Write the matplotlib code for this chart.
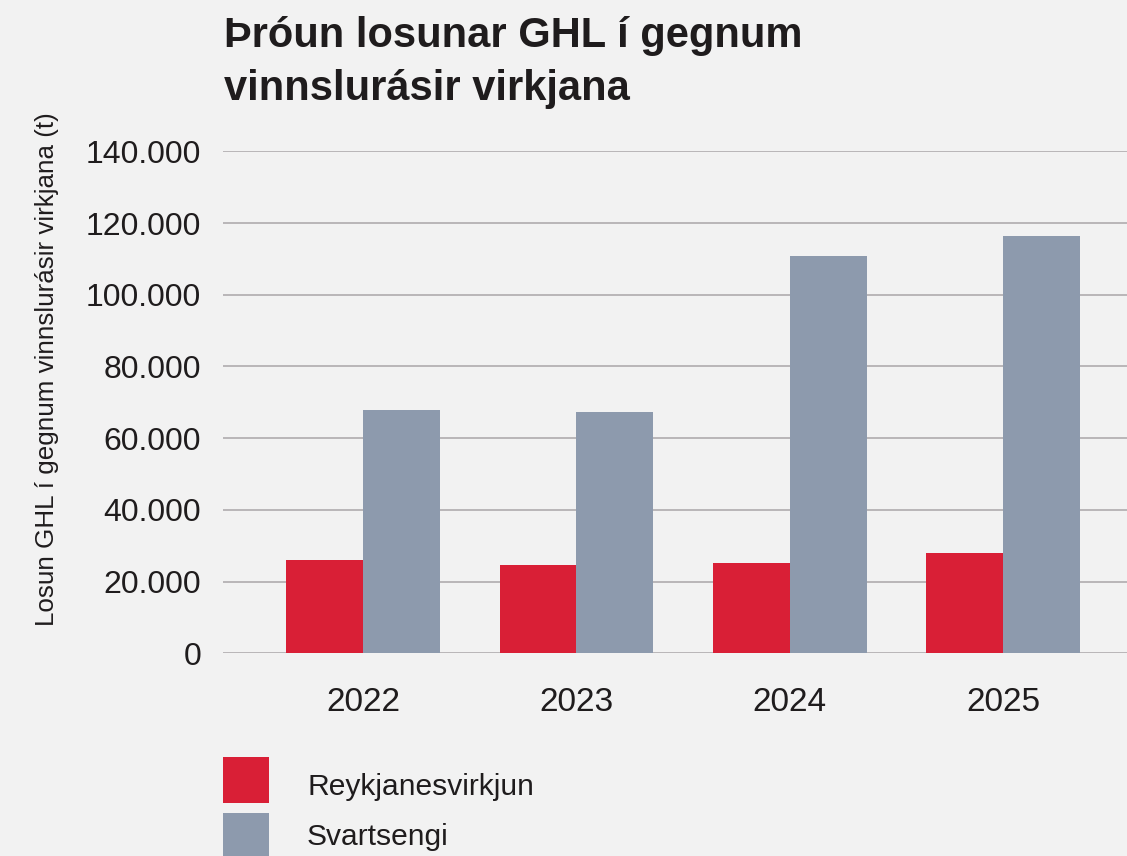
import numpy as np
import matplotlib
matplotlib.use("Agg")
import matplotlib.pyplot as plt
from matplotlib.patches import Rectangle

# data (tonnes)
years = ["2022", "2023", "2024", "2025"]
reykjanes = [26000, 24600, 25200, 28000]
svartsengi = [67900, 67400, 110900, 116500]
series_names = ["Reykjanesvirkjun", "Svartsengi"]
yticks = [0, 20000, 40000, 60000, 80000, 100000, 120000, 140000]
title_lines = ["Þróun losunar GHL í gegnum", "vinnslurásir virkjana"]

BG = "#f2f2f2"
RED = "#d91f36"
GREY = "#8d9aad"
GRID = "#a9a6a8"
TXT = "#1f1c1d"

plt.rcParams["font.family"] = ["Liberation Sans", "DejaVu Sans"]

W, H = 1127, 856
fig = plt.figure(figsize=(W / 100, H / 100), dpi=100, facecolor=BG)
ax = fig.add_axes([223.3 / W, 1 - 653.3 / H, 1 - 223.3 / W, (653.3 - 151.3) / H])
ax.set_facecolor(BG)

x = np.arange(len(years))
w = 0.36
ax.bar(x - w / 2, reykjanes, w, color=RED, label=series_names[0], zorder=3)
ax.bar(x + w / 2, svartsengi, w, color=GREY, label=series_names[1], zorder=3)

ax.set_xlim(-0.655, 3.581)
ax.set_ylim(0, 140000)
ax.set_yticks(yticks)
ax.set_yticklabels([f"{v:,}".replace(",", ".") for v in yticks])
ax.set_xticks(x)
ax.set_xticklabels(years)
ax.tick_params(axis="y", length=0, pad=16, labelsize=23, labelcolor=TXT)
ax.tick_params(axis="x", length=0, pad=24, labelsize=24, labelcolor=TXT)
ax.yaxis.grid(True, color=GRID, linewidth=1.1, zorder=0)
ax.set_axisbelow(True)
for s in ax.spines.values():
    s.set_visible(False)

fig.text(47 / W, 1 - 369 / H, "Losun GHL í gegnum vinnslurásir virkjana (t)",
         rotation=90, ha="center", va="center", fontsize=18.7, color=TXT)

# title, one text per line
for i, line in enumerate(title_lines):
    fig.text(224 / W, 1 - (47 + 53 * i) / H, line, ha="left", va="baseline",
             fontsize=30, fontweight="bold", color=TXT)

# legend: big squares with labels
sq_tops = [757, 813]
baselines = [795, 845]
for name, col, top, base in zip(series_names, [RED, GREY], sq_tops, baselines):
    fig.add_artist(Rectangle((223 / W, 1 - (top + 46) / H), 46 / W, 46 / H,
                             transform=fig.transFigure, facecolor=col, edgecolor="none"))
    fig.text(307 / W, 1 - base / H, name, ha="left", va="baseline",
             fontsize=21.6, color=TXT)

fig.savefig("out.png", dpi=100, facecolor=BG)
